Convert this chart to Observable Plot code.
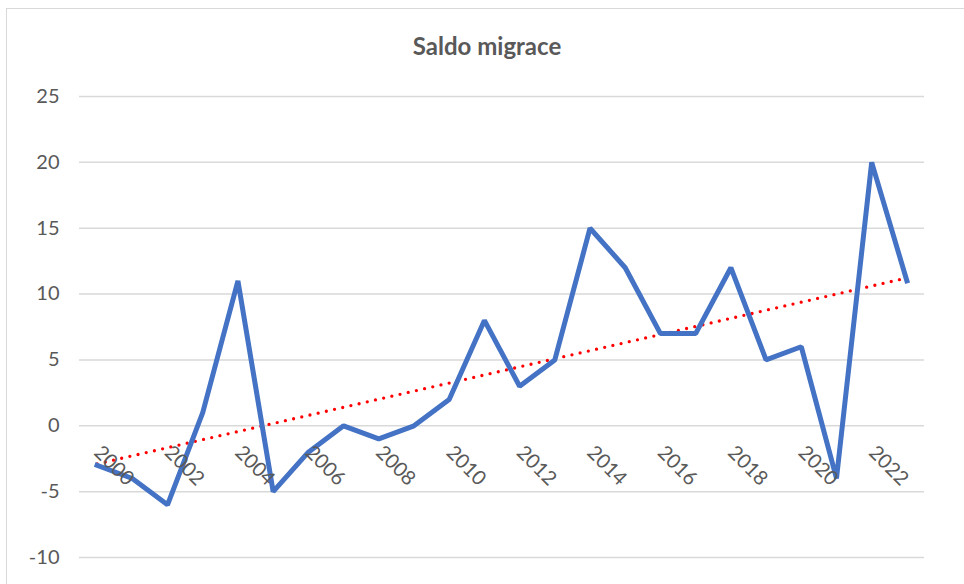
<!DOCTYPE html>
<html>
<head>
<meta charset="utf-8">
<script src="https://cdn.jsdelivr.net/npm/d3@7"></script>
<script src="https://cdn.jsdelivr.net/npm/@observablehq/plot@0.6"></script>
<style>
  html, body { margin: 0; padding: 0; background: #fff; overflow: hidden; }
  #wrap { position: relative; width: 964px; height: 584px; overflow: hidden; }
  #frame { position: absolute; left: 6px; top: 8px; width: 980px; height: 600px; border: 1.5px solid #d9d9d9; box-sizing: border-box; pointer-events: none; }
  #title { position: absolute; left: 8px; width: 958px; top: 31px; text-align: center; font-family: Lato, "Open Sans", sans-serif; font-weight: bold; font-size: 24px; line-height: 30px; color: #595959; }
  #chart { position: absolute; left: 0; top: 0; }
</style>
</head>
<body>
<div id="wrap">
  <div id="frame"></div>
  <div id="chart"></div>
  <div id="title">Saldo migrace</div>
</div>
<script>
const years = [2000,2001,2002,2003,2004,2005,2006,2007,2008,2009,2010,2011,2012,2013,2014,2015,2016,2017,2018,2019,2020,2021,2022,2023];
const values = [-3,-4,-6,1,11,-5,-2,0,-1,0,2,8,3,5,15,12,7,7,12,5,6,-4,20,11];
const tickYears = [2000,2002,2004,2006,2008,2010,2012,2014,2016,2018,2020,2022];
const yTicks = [-10,-5,0,5,10,15,20,25];

const data = years.map((year, i) => ({year, value: values[i]}));

// least-squares linear trend
const n = years.length;
const mx = d3.mean(years), my = d3.mean(values);
const slope = d3.sum(years, (x, i) => (x - mx) * (values[i] - my)) / d3.sum(years, x => (x - mx) ** 2);
const trend = [years[0], years[n - 1]].map(x => ({year: x, value: my + slope * (x - mx)}));

const chart = Plot.plot({
  width: 964,
  height: 584,
  marginLeft: 79,
  marginRight: 40,
  marginTop: 96,
  marginBottom: 27,
  style: {fontFamily: "Lato, 'Open Sans', sans-serif", fontSize: "20px", color: "#595959", background: "transparent", overflow: "visible"},
  x: {domain: [years[0] - 0.5, years[n - 1] + 0.5], axis: null},
  y: {domain: [-10, 25], axis: null},
  marks: [
    Plot.gridY(yTicks, {stroke: "#d9d9d9", strokeOpacity: 1, strokeWidth: 1.5}),
    Plot.axisY(yTicks, {tickSize: 0, tickPadding: 20, fontSize: 20, fill: "#595959", label: null, tickFormat: d => String(d)}),
    Plot.line(trend, {x: "year", y: "value", stroke: "#ff0000", strokeWidth: 3.3, strokeDasharray: "0 8.4", strokeLinecap: "round"}),
    Plot.line(data, {x: "year", y: "value", stroke: "#4472c4", strokeWidth: 5, strokeLinejoin: "miter", strokeLinecap: "square"}),
    Plot.text(tickYears, {x: d => d, y: () => 0, text: d => String(d), rotate: 45, textAnchor: "start", lineAnchor: "top", dx: 6, dy: 18, fontSize: 20, fill: "#595959"})
  ]
});
document.getElementById("chart").appendChild(chart);
</script>
</body>
</html>
